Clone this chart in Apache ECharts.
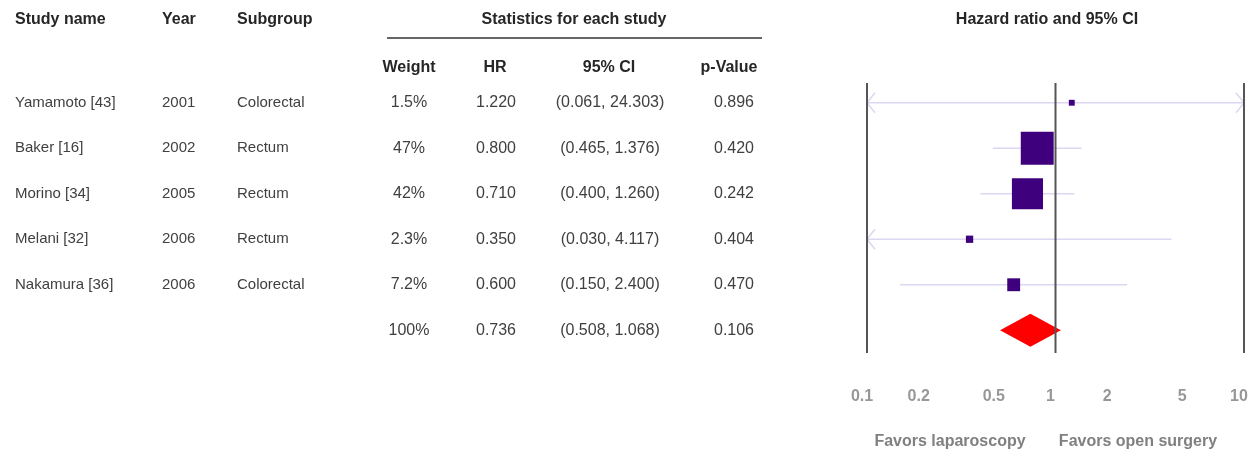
<!DOCTYPE html>
<html><head><meta charset="utf-8">
<script src="https://cdn.jsdelivr.net/npm/echarts@6/dist/echarts.min.js"></script>
<style>html,body{margin:0;padding:0;background:#fff}#c{width:1257px;height:465px}</style>
</head><body><div id="c"></div>
<script>
// ---- data ----
const studies   = ['Yamamoto [43]', 'Baker [16]', 'Morino [34]', 'Melani [32]', 'Nakamura [36]', ''];
const years     = ['2001', '2002', '2005', '2006', '2006', ''];
const subgroups = ['Colorectal', 'Rectum', 'Rectum', 'Rectum', 'Colorectal', ''];
const weights   = [1.5, 47, 42, 2.3, 7.2, 100];
const hr        = [1.220, 0.800, 0.710, 0.350, 0.600, 0.736];
const ciLow     = [0.061, 0.465, 0.400, 0.030, 0.150, 0.508];
const ciHigh    = [24.303, 1.376, 1.260, 4.117, 2.400, 1.068];
const pValues   = [0.896, 0.420, 0.242, 0.404, 0.470, 0.106];
const xTicks      = [0.1, 0.2, 0.5, 1, 2, 5, 10];
const xTickLabels = ['0.1', '0.2', '0.5', '1', '2', '5', '10'];
const refLines    = [0.1, 1, 10];
const rowKeys = studies.map((s, i) => 'r' + i);
const nStudies = 5;

// ---- style ----
const X_MIN = 0.1, X_MAX = 10;
const FF = '"Liberation Sans", Arial, sans-serif';
const COL = {name: 15, year: 162, sub: 237, weight: 409, hr: 496, ci: 610, p: 734};
const BODY_C = '#404040', HEAD_C = '#262626';
const WHISKER = '#ddd6f2', BOX = '#3f007d', DIAMOND = '#ff0000', REF = '#555555';

function tableItem(params, api) {
  const i = params.dataIndex;
  const y = api.coord([0, i])[1];
  const cells = [
    [studies[i], COL.name, 'left', 15],
    [years[i], COL.year, 'left', 15],
    [subgroups[i], COL.sub, 'left', 15],
    [weights[i] + '%', COL.weight, 'center', 16],
    [hr[i].toFixed(3), COL.hr, 'center', 16],
    ['(' + ciLow[i].toFixed(3) + ', ' + ciHigh[i].toFixed(3) + ')', COL.ci, 'center', 16],
    [pValues[i].toFixed(3), COL.p, 'center', 16]
  ];
  return {type: 'group', children: cells.filter(c => c[0] !== '').map(c => ({
    type: 'text', x: c[1], y: y,
    style: {text: c[0], align: c[2], verticalAlign: 'middle', fontSize: c[3], fontFamily: FF, fill: BODY_C}
  }))};
}

function whiskerItem(params, api) {
  const lo = api.value(0), hi = api.value(1), i = api.value(2);
  const a = api.coord([Math.max(lo, X_MIN), i]);
  const b = api.coord([Math.min(hi, X_MAX), i]);
  const st = {stroke: WHISKER, lineWidth: 1.5, fill: null};
  const ch = [{type: 'line', shape: {x1: a[0], y1: a[1], x2: b[0], y2: b[1]}, style: st}];
  if (lo < X_MIN) ch.push({type: 'polyline', shape: {points: [[a[0] + 8, a[1] - 10], [a[0], a[1]], [a[0] + 8, a[1] + 10]]}, style: st});
  if (hi > X_MAX) ch.push({type: 'polyline', shape: {points: [[b[0] - 8, b[1] - 10], [b[0], b[1]], [b[0] - 8, b[1] + 10]]}, style: st});
  return {type: 'group', children: ch};
}

function diamondItem(params, api) {
  const l = api.coord([api.value(0), api.value(3)]);
  const m = api.coord([api.value(1), api.value(3)]);
  const r = api.coord([api.value(2), api.value(3)]);
  const h = 16.5;
  return {type: 'polygon', shape: {points: [[l[0], l[1]], [m[0], m[1] - h], [r[0], r[1]], [m[0], m[1] + h]]}, style: {fill: DIAMOND}};
}

function refLineItem(params, api) {
  const cs = params.coordSys;
  const x = api.coord([api.value(0), 0])[0];
  return {type: 'line', shape: {x1: x, y1: cs.y + 3, x2: x, y2: cs.y + cs.height}, style: {stroke: REF, lineWidth: 2}};
}

const chart = echarts.init(document.getElementById('c'), null, {renderer: 'canvas'});
const hideAxis = {show: false};
const headText = (t, x, y, align) => ({type: 'text', x: x, y: y, style: {text: t, align: align || 'left', verticalAlign: 'middle', fontSize: 16, fontWeight: 'bold', fontFamily: FF, fill: HEAD_C}});
chart.setOption({
  animation: false,
  backgroundColor: '#ffffff',
  grid: [
    {left: 0, top: 80, width: 840, height: 273},
    {left: 867, top: 80, width: 377, height: 273},
    {left: 867, top: 385, width: 377, height: 24}
  ],
  xAxis: [
    Object.assign({type: 'value', gridIndex: 0, min: 0, max: 840}, hideAxis),
    Object.assign({type: 'log', logBase: 10, gridIndex: 1, min: X_MIN, max: X_MAX}, hideAxis),
    Object.assign({type: 'log', logBase: 10, gridIndex: 2, min: X_MIN, max: X_MAX}, hideAxis)
  ],
  yAxis: [
    Object.assign({type: 'category', gridIndex: 0, data: rowKeys, inverse: true}, hideAxis),
    Object.assign({type: 'category', gridIndex: 1, data: rowKeys, inverse: true}, hideAxis),
    Object.assign({type: 'value', gridIndex: 2, min: -1, max: 1}, hideAxis)
  ],
  graphic: [
    headText('Study name', 15, 20),
    headText('Year', 162, 20),
    headText('Subgroup', 237, 20),
    headText('Statistics for each study', 574, 20, 'center'),
    {type: 'line', shape: {x1: 387, y1: 38, x2: 762, y2: 38}, style: {stroke: '#666', lineWidth: 2}},
    headText('Weight', 409, 68, 'center'),
    headText('HR', 495, 68, 'center'),
    headText('95% CI', 609, 68, 'center'),
    headText('p-Value', 729, 68, 'center'),
    headText('Hazard ratio and 95% CI', 1047, 20, 'center'),
    {type: 'text', x: 950, y: 442, style: {text: 'Favors laparoscopy', align: 'center', verticalAlign: 'middle', fontSize: 16, fontWeight: 'bold', fontFamily: FF, fill: '#808080'}},
    {type: 'text', x: 1138, y: 442, style: {text: 'Favors open surgery', align: 'center', verticalAlign: 'middle', fontSize: 16, fontWeight: 'bold', fontFamily: FF, fill: '#808080'}}
  ],
  series: [
    {type: 'custom', xAxisIndex: 0, yAxisIndex: 0, renderItem: tableItem,
     data: rowKeys.map((k, i) => [0, i]), encode: {x: 0, y: 1}, silent: true},
    {type: 'custom', xAxisIndex: 1, yAxisIndex: 1, renderItem: whiskerItem, z: 2,
     data: ciLow.slice(0, nStudies).map((lo, i) => [lo, ciHigh[i], i]), encode: {x: [0, 1], y: 2}, silent: true},
    {type: 'scatter', xAxisIndex: 1, yAxisIndex: 1, symbol: 'rect', z: 3,
     symbolSize: v => 4.8 * Math.sqrt(v[2]),
     itemStyle: {color: BOX, opacity: 1},
     data: hr.slice(0, nStudies).map((h, i) => [h, i, weights[i]]), silent: true},
    {type: 'custom', xAxisIndex: 1, yAxisIndex: 1, renderItem: diamondItem, z: 3,
     data: [[ciLow[5], hr[5], ciHigh[5], 5]], encode: {x: [0, 1, 2], y: 3}, silent: true},
    {type: 'custom', xAxisIndex: 1, yAxisIndex: 1, renderItem: refLineItem, z: 5,
     data: refLines.map(v => [v, 0]), encode: {x: 0, y: 1}, silent: true, clip: false},
    {type: 'scatter', xAxisIndex: 2, yAxisIndex: 2, symbolSize: 1, itemStyle: {color: 'rgba(0,0,0,0)'},
     data: xTicks.map(v => [v, 0]), silent: true,
     label: {show: true, position: 'inside', offset: [-5, 0], formatter: p => xTickLabels[p.dataIndex],
             fontSize: 16, fontWeight: 'bold', fontFamily: FF, color: '#7d7d7d'}}
  ]
});
</script>
</body></html>
